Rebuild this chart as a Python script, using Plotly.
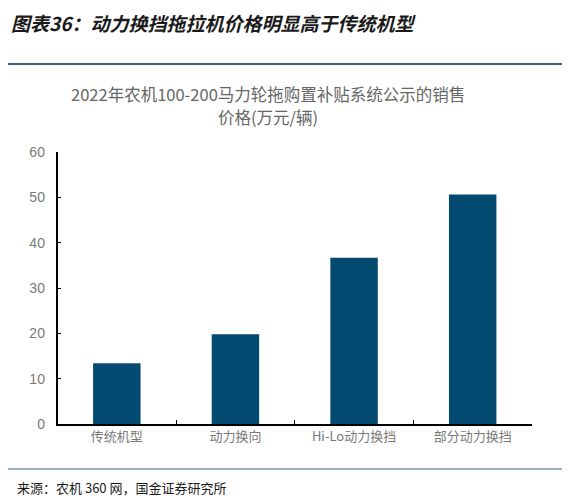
import plotly.graph_objects as go

categories = ["传统机型", "动力换向", "Hi-Lo动力换挡", "部分动力换挡"]
prices = [13.4, 19.8, 36.7, 50.6]
y_ticks = [0, 10, 20, 30, 40, 50, 60]

W, H = 570, 499
OFF = 8  # page body margin pushes the figure down/right
BAR_COL = "#024A70"
LINE_COL = "#2E6583"
GREY = "#666666"
TICK_GREY = "#7a7a7a"
CJK = "Noto Sans CJK SC, Noto Sans, sans-serif"


def px_x(x):
    return (x - OFF) / W


def px_y(y):
    return 1 - (y - OFF) / H


# plot area in window pixels (left, right, top, bottom)
PL, PR, PT, PB = 57.5, 532, 152, 424

fig = go.Figure()
fig.add_trace(go.Bar(
    x=categories, y=prices,
    marker=dict(color=BAR_COL, line=dict(width=0)),
    width=0.4, hoverinfo="x+y",
))

# header title, rules and source note
fig.add_annotation(
    text="<b><i>图表36：动力换挡拖拉机价格明显高于传统机型</i></b>",
    xref="paper", yref="paper", x=px_x(10), y=1,
    xanchor="left", yanchor="top", showarrow=False, borderpad=0,
    font=dict(family=CJK, size=19, color="#1a1a1a"),
)
fig.add_shape(type="line", xref="paper", yref="paper",
              x0=0, x1=1, y0=px_y(64), y1=px_y(64),
              line=dict(color=LINE_COL, width=2))
fig.add_shape(type="line", xref="paper", yref="paper",
              x0=0, x1=1, y0=px_y(469), y1=px_y(469),
              line=dict(color=LINE_COL, width=1.2))
fig.add_annotation(
    text="来源：农机 360 网，国金证券研究所",
    xref="paper", yref="paper", x=px_x(15), y=px_y(487),
    xanchor="left", yanchor="middle", showarrow=False,
    font=dict(family=CJK, size=13, color="#1a1a1a"),
)

# chart title (two lines)
fig.add_annotation(
    text="2022年农机100-200马力轮拖购置补贴系统公示的销售",
    xref="paper", yref="paper", x=px_x(268), y=px_y(94),
    xanchor="center", yanchor="middle", showarrow=False,
    font=dict(family=CJK, size=16.5, color=GREY),
)
fig.add_annotation(
    text="价格(万元/辆)",
    xref="paper", yref="paper", x=px_x(268), y=px_y(117),
    xanchor="center", yanchor="middle", showarrow=False,
    font=dict(family=CJK, size=16.5, color=GREY),
)

fig.update_layout(
    width=W, height=H,
    margin=dict(l=0, r=0, t=0, b=0),
    plot_bgcolor="white", paper_bgcolor="white",
    showlegend=False,
)
fig.update_xaxes(
    type="category", domain=[px_x(PL), px_x(PR)], automargin=False,
    showline=True, linecolor="black", linewidth=1.5,
    ticks="inside", ticklen=4, tickcolor="black", tickwidth=1.2,
    tickson="boundaries",
    tickfont=dict(family=CJK, size=13, color=TICK_GREY),
    showgrid=False,
)
fig.update_yaxes(
    range=[0, 60], tickvals=y_ticks,
    domain=[px_y(PB), px_y(PT)], automargin=False,
    showline=True, linecolor="black", linewidth=1.5,
    ticks="inside", ticklen=4, tickcolor="black", tickwidth=1.2,
    tickfont=dict(family="Liberation Sans, Arial, sans-serif", size=14, color=TICK_GREY),
    ticklabelstandoff=8,
    showgrid=False, zeroline=False,
)

fig.write_html("out.html")
